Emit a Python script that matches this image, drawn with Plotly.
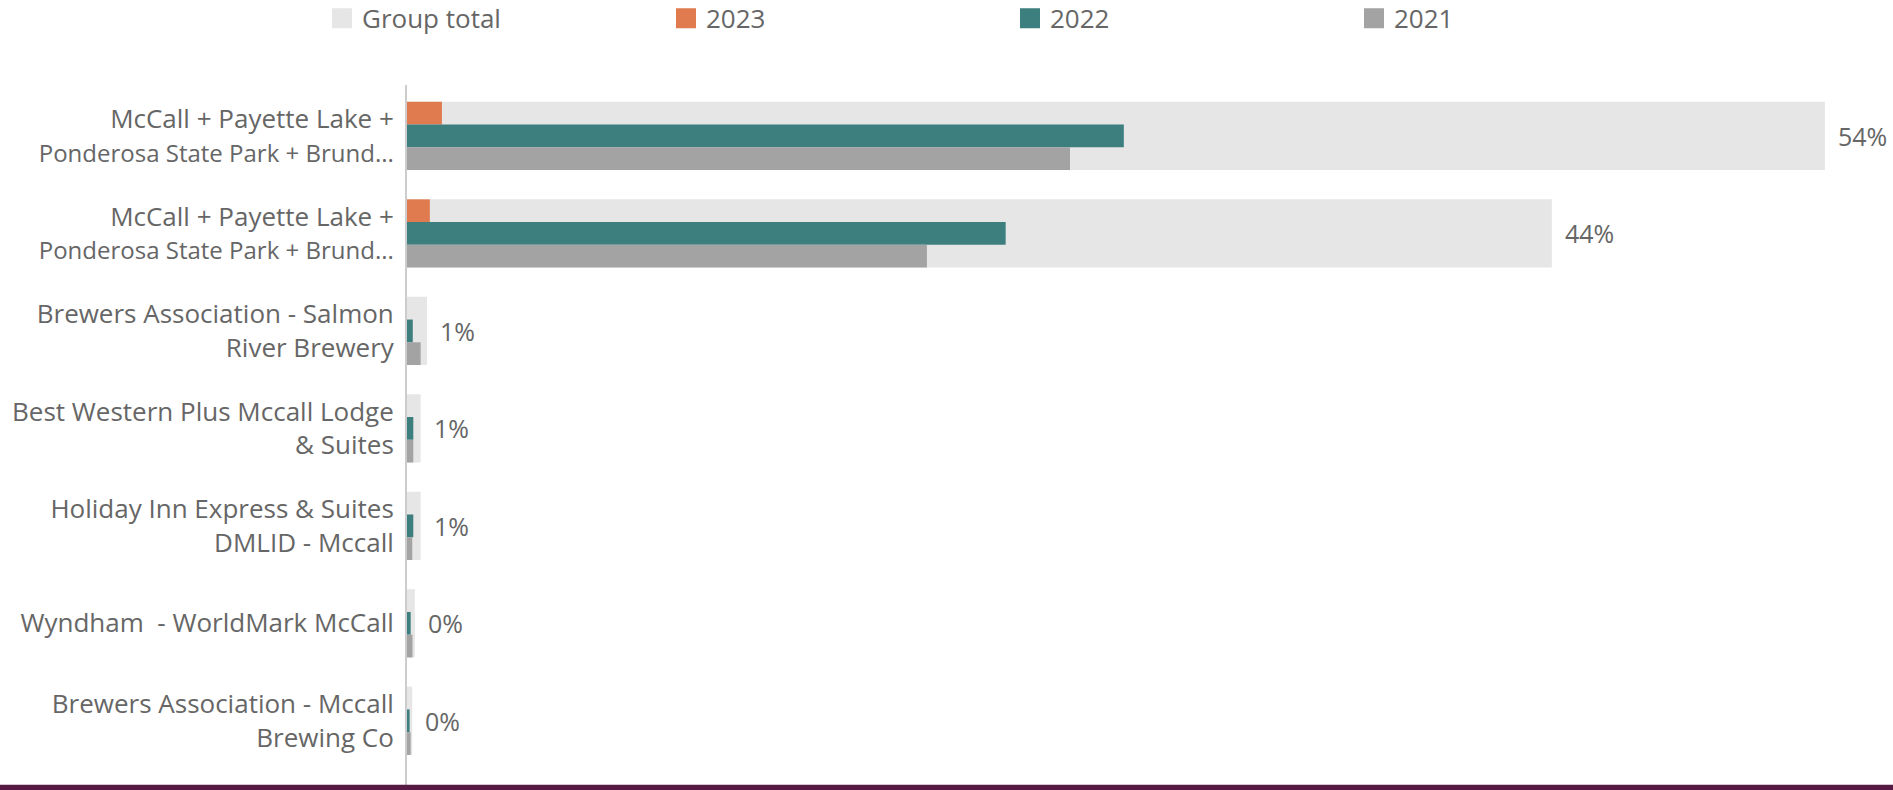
import plotly.graph_objects as go

categories = [
    "McCall + Payette Lake +<br><span style=\"font-size:24px\">Ponderosa State Park + Brund...</span>",
    "McCall + Payette Lake +<br><span style=\"font-size:24px\">Ponderosa State Park + Brund...</span>",
    "Brewers Association - Salmon<br>River Brewery",
    "Best Western Plus Mccall Lodge<br>& Suites",
    "Holiday Inn Express & Suites<br>DMLID - Mccall",
    "Wyndham\u00a0 - WorldMark McCall",
    "Brewers Association - Mccall<br>Brewing Co",
]
group_total = [54.0, 43.6, 0.76, 0.52, 0.52, 0.30, 0.20]
v2023 = [1.33, 0.87, 0, 0, 0, 0, 0]
v2022 = [27.3, 22.8, 0.22, 0.24, 0.24, 0.14, 0.10]
v2021 = [25.25, 19.8, 0.52, 0.24, 0.20, 0.21, 0.14]

series = [
    ("Group total", group_total, "#e6e6e6", -0.35, 0.70),
    ("2023", v2023, "#e07b4f", -0.35, 0.2333),
    ("2022", v2022, "#3d7e7e", -0.1167, 0.2333),
    ("2021", v2021, "#a3a3a3", 0.1167, 0.2333),
]

pos = list(range(len(categories)))
FONT = "Open Sans"
GRAY = "#666666"

fig = go.Figure()
for name, vals, color, off, w in series:
    fig.add_trace(go.Bar(
        x=vals, y=pos, orientation="h", name=name,
        marker=dict(color=color, line=dict(width=0)),
        offset=off, width=w, showlegend=False, hoverinfo="x+name",
    ))
# legend entries (square swatches)
for name, vals, color, off, w in series:
    fig.add_trace(go.Scatter(
        x=[None], y=[None], mode="markers", name=name,
        marker=dict(symbol="square", size=16, color=color,
                    line=dict(color=color, width=4)),
        showlegend=True,
    ))

for i, t in enumerate(group_total):
    fig.add_annotation(
        x=t, y=pos[i], xref="x", yref="y", text=f"{round(t)}%",
        showarrow=False, xanchor="left", yanchor="middle", xshift=11,
        font=dict(family=FONT, size=25, color=GRAY),
    )

# bottom edge band from the source screenshot
fig.add_shape(type="rect", xref="paper", yref="paper", x0=-0.3, x1=1.05,
              y0=0, y1=0.0075, fillcolor="#561a45", line=dict(width=0), layer="above")

fig.update_layout(
    width=1893, height=790,
    margin=dict(l=407, r=40, t=85, b=0, autoexpand=False),
    paper_bgcolor="white", plot_bgcolor="white",
    barmode="overlay",
    font=dict(family=FONT, color=GRAY),
    legend=dict(
        orientation="h", x=-0.0588, xanchor="left", y=1.128, yanchor="top",
        font=dict(family=FONT, size=26, color=GRAY),
        entrywidth=299, entrywidthmode="pixels",
        bgcolor="rgba(0,0,0,0)", traceorder="normal",
    ),
    xaxis=dict(range=[0, 55.07], showgrid=False, zeroline=False,
               showticklabels=False, showline=False, fixedrange=True),
    yaxis=dict(range=[6.71, -0.523], tickmode="array", tickvals=pos,
               ticktext=categories, showgrid=False, zeroline=False,
               showline=True, linecolor="#cccccc", linewidth=2,
               ticks="", ticklabelstandoff=6,
               tickfont=dict(family=FONT, size=26, color=GRAY)),
    hovermode="closest",
)

fig.write_html("out.html")
